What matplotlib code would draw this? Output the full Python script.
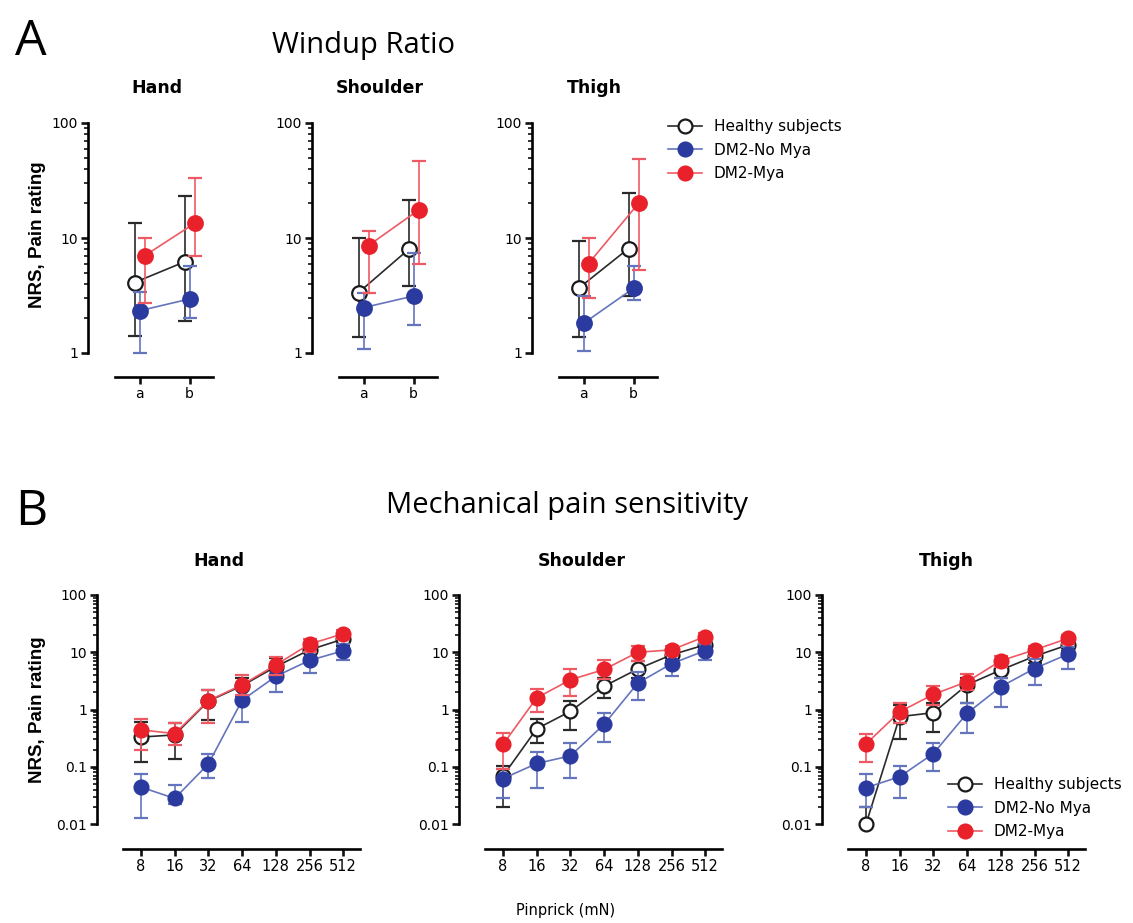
import numpy as np
import matplotlib.pyplot as plt
from matplotlib.lines import Line2D
from matplotlib.ticker import FixedLocator, FuncFormatter, NullLocator

# ---- data: panel A, windup ratio (a, b) ----
sites = ['Hand', 'Shoulder', 'Thigh']
windup_labels = ['a', 'b']

hs_windup = [[4.1, 6.2], [3.35, 7.95], [3.65, 8.1]]
hs_windup_lo = [[1.4, 1.9], [1.39, 3.8], [1.39, 3.1]]
hs_windup_hi = [[13.6, 23.0], [10.0, 21.4], [9.5, 24.5]]

nomya_windup = [[2.33, 2.95], [2.48, 3.13], [1.81, 3.65]]
nomya_windup_lo = [[1.0, 2.0], [1.08, 1.75], [1.05, 2.9]]
nomya_windup_hi = [[3.4, 5.7], [3.3, 7.4], [3.1, 5.7]]

mya_windup = [[7.0, 13.4], [8.6, 17.5], [6.0, 20.0]]
mya_windup_lo = [[2.7, 7.0], [3.35, 6.0], [3.0, 5.3]]
mya_windup_hi = [[10.0, 33.0], [11.6, 46.6], [10.0, 49.0]]

# ---- data: panel B, mechanical pain sensitivity ----
pinprick = [8, 16, 32, 64, 128, 256, 512]

hs_mps = [[0.33, 0.36, 1.4, 2.6, 5.6, 11, 17],
          [0.069, 0.46, 0.93, 2.55, 5.1, 9.0, 13.5],
          [0.01, 0.75, 0.88, 2.7, 4.9, 8.5, 13.5]]
hs_mps_lo = [[0.123, 0.137, 0.65, 1.7, 3.5, 8, 13],
             [0.0195, 0.26, 0.43, 1.6, 3.5, 7, 11],
             [0.01, 0.3, 0.4, 1.3, 3.5, 6.5, 10.5]]
hs_mps_hi = [[0.6, 0.58, 2.2, 3.6, 8.0, 14, 21],
             [0.105, 0.69, 1.4, 3.5, 6.9, 11, 16],
             [0.0195, 1.2, 1.3, 3.6, 6.5, 10.5, 16]]

nomya_mps = [[0.044, 0.028, 0.112, 1.45, 3.8, 7.2, 10.6],
             [0.062, 0.114, 0.155, 0.55, 2.9, 6.3, 10.7],
             [0.043, 0.067, 0.17, 0.86, 2.5, 5.2, 9.3]]
nomya_mps_lo = [[0.0126, 0.022, 0.063, 0.61, 2.0, 4.3, 7.2],
                [0.028, 0.043, 0.063, 0.27, 1.44, 3.8, 7.2],
                [0.02, 0.029, 0.084, 0.39, 1.1, 2.7, 5.1]]
nomya_mps_hi = [[0.075, 0.048, 0.164, 2.3, 5.5, 10, 14],
                [0.09, 0.18, 0.26, 0.86, 4.5, 9, 14],
                [0.075, 0.104, 0.265, 1.3, 3.6, 7.5, 12.5]]

mya_mps = [[0.44, 0.38, 1.43, 2.7, 6.0, 13.9, 21],
           [0.245, 1.6, 3.3, 5.0, 10, 11, 18.8],
           [0.25, 0.91, 1.84, 3.06, 7.1, 11, 17.5]]
mya_mps_lo = [[0.2, 0.24, 0.58, 1.8, 4.0, 10, 17],
              [0.09, 0.9, 1.7, 3.4, 7, 9, 15],
              [0.12, 0.57, 1.2, 2.2, 5.5, 8.5, 14]]
mya_mps_hi = [[0.67, 0.58, 2.2, 4.0, 8.1, 17, 24],
              [0.39, 2.3, 5.1, 7.2, 13, 13, 22],
              [0.37, 1.3, 2.6, 4.2, 8.5, 13, 20]]

group_names = ['Healthy subjects', 'DM2-No Mya', 'DM2-Mya']

# marker face, marker edge, line/errorbar colour
styles = [
    dict(mfc='white', mec='#1a1a1a', lc='#2a2a2a', z=2),
    dict(mfc='#2b3a9e', mec='#2b3a9e', lc='#6474bd', z=3),
    dict(mfc='#e8212b', mec='#e8212b', lc='#ee5a63', z=4),
]

W, H = 1133, 923
fig = plt.figure(figsize=(W / 100, H / 100), dpi=100)


def rect(left, top, right, bottom):
    return [left / W, 1 - bottom / H, (right - left) / W, (bottom - top) / H]


def decade_minors(e0, e1):
    return [k * 10.0 ** e for e in range(e0, e1) for k in range(2, 10)]


def style_axes(ax, ybounds, xbounds, minors):
    ax.spines['top'].set_visible(False)
    ax.spines['right'].set_visible(False)
    ax.spines['left'].set_bounds(*ybounds)
    ax.spines['bottom'].set_bounds(*xbounds)
    for s in ['left', 'bottom']:
        ax.spines[s].set_linewidth(1.9)
    ax.yaxis.set_minor_locator(FixedLocator(minors))
    ax.yaxis.set_major_formatter(FuncFormatter(lambda v, p: '%g' % v))
    ax.tick_params(which='major', direction='out', length=5, width=1.9,
                   labelsize=10, pad=2, color='#111111')
    ax.tick_params(which='minor', direction='out', length=3, width=1.2, color='#111111')
    ax.tick_params(axis='x', which='minor', length=0)
    ax.set_facecolor('none')


def draw_group(ax, x, mean, lo, hi, st, ms):
    mean = np.array(mean)
    yerr = [mean - np.array(lo), np.array(hi) - mean]
    ax.errorbar(x, mean, yerr=yerr, fmt='-o', color=st['lc'], ecolor=st['lc'],
                elinewidth=1.2, capsize=5, capthick=1.2, lw=1.2,
                ms=ms, mfc=st['mfc'], mec=st['mec'], mew=1.6, zorder=st['z'])


# ---------------- Panel A ----------------
a_lefts = [88, 312, 532]
a_means = [hs_windup, nomya_windup, mya_windup]
a_los = [hs_windup_lo, nomya_windup_lo, mya_windup_lo]
a_his = [hs_windup_hi, nomya_windup_hi, mya_windup_hi]
offsets = [-0.1, 0.0, 0.1]
for i, left in enumerate(a_lefts):
    ax = fig.add_axes(rect(left, 123, left + 130, 377))
    ax.set_yscale('log')
    ax.set_ylim(10 ** (-24 / 115), 100)
    ax.set_xlim(-1.03, 1.57)
    xs = np.arange(len(windup_labels))
    for g in range(3):
        draw_group(ax, xs + offsets[g], a_means[g][i], a_los[g][i], a_his[g][i],
                   styles[g], 10.5)
    ax.set_yticks([1, 10, 100])
    ax.set_xticks(xs)
    ax.set_xticklabels(windup_labels)
    style_axes(ax, (1, 100), (-0.5, 1.47), decade_minors(0, 2))

# ---------------- Panel B ----------------
b_lefts = [97, 459, 822]
b_means = [hs_mps, nomya_mps, mya_mps]
b_los = [hs_mps_lo, nomya_mps_lo, mya_mps_lo]
b_his = [hs_mps_hi, nomya_mps_hi, mya_mps_hi]
oct_px = 33.7
for i, left in enumerate(b_lefts):
    right = left + 44 + 6 * oct_px + 24
    ax = fig.add_axes(rect(left, 595, right, 849))
    ax.set_xscale('log', base=2)
    ax.set_yscale('log')
    ax.set_xlim(8 / 2 ** (44 / oct_px), 512 * 2 ** (24 / oct_px))
    ax.set_ylim(0.01 * 10 ** (-25 / 57.25), 100)
    for g in range(3):
        draw_group(ax, pinprick, b_means[g][i], b_los[g][i], b_his[g][i],
                   styles[g], 10)
    ax.xaxis.set_major_locator(FixedLocator(pinprick))
    ax.xaxis.set_minor_locator(NullLocator())
    ax.xaxis.set_major_formatter(FuncFormatter(lambda v, p: '%d' % v))
    ax.set_yticks([0.01, 0.1, 1, 10, 100])
    style_axes(ax, (0.01, 100), (8 / 2 ** 0.52, 512 * 2 ** 0.5), decade_minors(-2, 2))
    ax.tick_params(axis='x', labelsize=10.5)

# ---------------- texts ----------------
head = 'Open Sans'
fig.text(31 / W, 1 - 42 / H, 'A', fontsize=36, family=head, ha='center', va='center')
fig.text(31 / W, 1 - 512 / H, 'B', fontsize=36, family=head, ha='center', va='center')
fig.text(364 / W, 1 - 45 / H, 'Windup Ratio', fontsize=21, family=head, ha='center', va='center')
fig.text(567 / W, 1 - 506 / H, 'Mechanical pain sensitivity', fontsize=21, family=head,
         ha='center', va='center')
fig.text(566 / W, 1 - 910 / H, 'Pinprick (mN)', fontsize=10.5, family='DejaVu Sans',
         ha='center', va='center')

for name, x in zip(sites, [157, 380, 594]):
    fig.text(x / W, 1 - 88 / H, name, fontsize=12.5, fontweight='bold', ha='center', va='center')
for name, x in zip(sites, [219, 582, 946]):
    fig.text(x / W, 1 - 561 / H, name, fontsize=12.5, fontweight='bold', ha='center', va='center')

for y in [235, 710]:
    fig.text(38 / W, 1 - y / H, 'NRS, Pain rating', fontsize=13.5, fontweight='bold',
             family='Liberation Sans', rotation=90, ha='center', va='center')

# ---------------- legends ----------------
handles = [Line2D([], [], color=st['lc'], lw=1.2, marker='o', ms=10, mfc=st['mfc'],
                  mec=st['mec'], mew=1.6) for st in styles]
fig.legend(handles, group_names, loc='center left', bbox_to_anchor=(668 / W, 1 - 150 / H),
           frameon=False, fontsize=11, handlelength=2.2, handletextpad=0.8,
           labelspacing=0.55, borderpad=0, borderaxespad=0)
fig.legend(handles, group_names, loc='center left', bbox_to_anchor=(948 / W, 1 - 808 / H),
           frameon=False, fontsize=11, handlelength=2.2, handletextpad=0.8,
           labelspacing=0.55, borderpad=0, borderaxespad=0)

fig.savefig('out.png', dpi=100)
